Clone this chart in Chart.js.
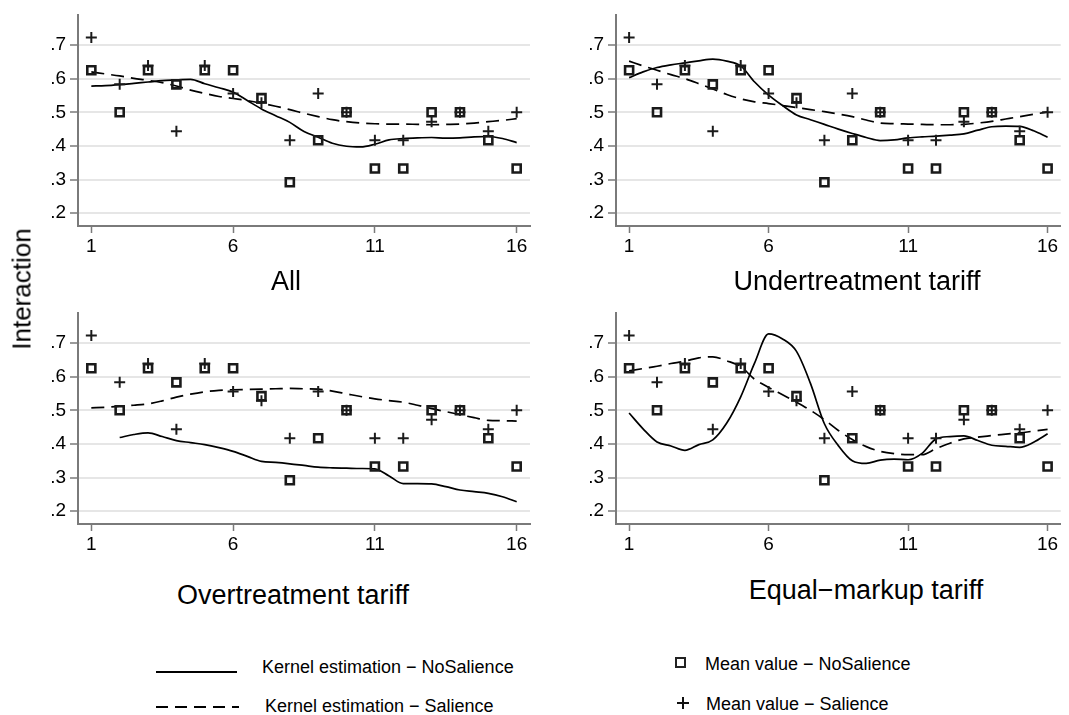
<!DOCTYPE html>
<html>
<head>
<meta charset="utf-8">
<script src="https://cdn.jsdelivr.net/npm/chart.js@4/dist/chart.umd.min.js"></script>
<style>
  body { margin: 0; background: #fff; font-family: "Liberation Sans", Arial, sans-serif; color: #000; }
  #fig { position: relative; width: 1069px; height: 715px; overflow: hidden; }
  .panel { position: absolute; width: 540px; height: 270px; }
  .panel.right { width: 529px; }
  .ptitle { position: absolute; font-size: 27px; line-height: 27px; white-space: nowrap; transform: translate(-50%, -50%); }
  #ylab { position: absolute; left: 22px; top: 289px; font-size: 26px; white-space: nowrap; transform: translate(-50%, -50%) rotate(-90deg); }
  .lg-text { position: absolute; font-size: 18px; line-height: 18px; white-space: nowrap; transform: translateY(-50%); }
  .lg-line { position: absolute; height: 2px; background: #000; }
  .lg-dash { position: absolute; height: 2px; background: repeating-linear-gradient(to right, #000 0 12px, transparent 12px 19px); }
  .lg-square { position: absolute; width: 7px; height: 7px; border: 2.5px solid #222; }
  .lg-plus { position: absolute; width: 12px; height: 12px; }
  .lg-plus::before, .lg-plus::after { content: ""; position: absolute; background: #111; }
  .lg-plus::before { left: 5px; top: 0; width: 2px; height: 12px; }
  .lg-plus::after { left: 0; top: 5px; width: 12px; height: 2px; }
</style>
</head>
<body>
<div id="fig">
  <div class="panel" style="left:0;top:0"><canvas id="c1"></canvas></div>
  <div class="panel right" style="left:540px;top:0"><canvas id="c2"></canvas></div>
  <div class="panel" style="left:0;top:298px"><canvas id="c3"></canvas></div>
  <div class="panel right" style="left:540px;top:298px"><canvas id="c4"></canvas></div>

  <div class="ptitle" style="left:286px;top:281px">All</div>
  <div class="ptitle" style="left:857px;top:281px">Undertreatment tariff</div>
  <div class="ptitle" style="left:293px;top:595px">Overtreatment tariff</div>
  <div class="ptitle" style="left:866px;top:590px">Equal−markup tariff</div>
  <div id="ylab">Interaction</div>

  <div class="lg-line" style="left:156px;top:671px;width:81px"></div>
  <div class="lg-text" style="left:262px;top:667px">Kernel estimation − NoSalience</div>
  <div class="lg-dash" style="left:156px;top:706px;width:83px"></div>
  <div class="lg-text" style="left:265px;top:706px">Kernel estimation − Salience</div>
  <div class="lg-square" style="left:675px;top:657px"></div>
  <div class="lg-text" style="left:705px;top:664px">Mean value − NoSalience</div>
  <div class="lg-plus" style="left:677px;top:697px"></div>
  <div class="lg-text" style="left:706px;top:704px">Mean value − Salience</div>
</div>

<script>
// axis ticks
const tickX = [1, 6, 11, 16];
const tickY = [0.2, 0.3, 0.4, 0.5, 0.6, 0.7];

// mean interaction per round
const rounds = [1, 2, 3, 4, 5, 6, 7, 8, 9, 10, 11, 12, 13, 14, 15, 16];
const meanNoSalience = [0.625, 0.5, 0.625, 0.583, 0.625, 0.625, 0.542, 0.292, 0.417, 0.5, 0.333, 0.333, 0.5, 0.5, 0.417, 0.333];
const meanSalience = [0.722, 0.583, 0.639, 0.444, 0.639, 0.556, 0.528, 0.417, 0.556, 0.5, 0.417, 0.417, 0.472, 0.5, 0.444, 0.5];

// kernel estimates, evaluated every half round
const kernelX = [1, 1.5, 2, 2.5, 3, 3.5, 4, 4.5, 5, 5.5, 6, 6.5, 7, 7.5, 8, 8.5, 9, 9.5, 10, 10.5, 11, 11.5, 12, 12.5, 13, 13.5, 14, 14.5, 15, 15.5, 16];

const allNoSalience = [0.578, 0.579, 0.582, 0.586, 0.590, 0.594, 0.596, 0.598, 0.585, 0.573, 0.560, 0.535, 0.510, 0.490, 0.470, 0.443, 0.426, 0.408, 0.399, 0.397, 0.405, 0.418, 0.422, 0.424, 0.425, 0.423, 0.424, 0.427, 0.428, 0.422, 0.410];
const allSalience = [0.620, 0.614, 0.608, 0.601, 0.595, 0.588, 0.578, 0.566, 0.556, 0.547, 0.541, 0.535, 0.527, 0.518, 0.508, 0.497, 0.487, 0.478, 0.472, 0.468, 0.466, 0.465, 0.465, 0.464, 0.463, 0.464, 0.465, 0.468, 0.472, 0.476, 0.481];

const underNoSalience = [0.603, 0.620, 0.633, 0.641, 0.647, 0.653, 0.658, 0.652, 0.638, 0.590, 0.551, 0.520, 0.492, 0.478, 0.464, 0.450, 0.437, 0.425, 0.416, 0.418, 0.424, 0.427, 0.429, 0.432, 0.436, 0.447, 0.457, 0.459, 0.458, 0.445, 0.426];
const underSalience = [0.652, 0.638, 0.625, 0.612, 0.600, 0.585, 0.569, 0.553, 0.540, 0.531, 0.526, 0.520, 0.514, 0.508, 0.502, 0.495, 0.487, 0.477, 0.468, 0.466, 0.465, 0.464, 0.463, 0.463, 0.464, 0.468, 0.473, 0.480, 0.487, 0.494, 0.501];

const overNoSalience = [null, null, 0.419, 0.428, 0.433, 0.422, 0.410, 0.404, 0.398, 0.389, 0.378, 0.363, 0.348, 0.345, 0.341, 0.336, 0.331, 0.329, 0.328, 0.327, 0.326, 0.305, 0.282, 0.282, 0.281, 0.273, 0.263, 0.258, 0.253, 0.243, 0.228];
const overSalience = [0.507, 0.509, 0.512, 0.515, 0.519, 0.528, 0.539, 0.548, 0.555, 0.559, 0.561, 0.562, 0.563, 0.564, 0.565, 0.564, 0.563, 0.557, 0.549, 0.541, 0.534, 0.529, 0.524, 0.515, 0.505, 0.496, 0.487, 0.478, 0.470, 0.469, 0.468];

const equalNoSalience = [0.492, 0.445, 0.406, 0.394, 0.381, 0.398, 0.412, 0.462, 0.540, 0.641, 0.727, 0.712, 0.675, 0.580, 0.460, 0.395, 0.350, 0.342, 0.352, 0.355, 0.353, 0.372, 0.415, 0.422, 0.424, 0.410, 0.396, 0.393, 0.390, 0.405, 0.430];
const equalSalience = [0.617, 0.624, 0.631, 0.639, 0.646, 0.656, 0.659, 0.647, 0.630, 0.592, 0.568, 0.546, 0.524, 0.500, 0.472, 0.440, 0.413, 0.392, 0.378, 0.371, 0.368, 0.368, 0.386, 0.402, 0.415, 0.420, 0.425, 0.429, 0.433, 0.438, 0.443];

const AXIS = "#7a7a7a";
const GRID = "#e6e6e6";
const tickFont = { family: "'Liberation Sans', Arial, sans-serif", size: 19 };

function pts(xs, ys) {
    return xs.map((x, i) => ({ x: x, y: ys[i] }));
}

function makePanel(id, noSal, sal, yWidth, padRight) {
    const ctx = document.getElementById(id).getContext("2d");
    return new Chart(ctx, {
        type: "scatter",
        data: {
            datasets: [
                {
                    label: "Mean value - NoSalience",
                    data: pts(rounds, meanNoSalience),
                    pointStyle: "rect",
                    pointRadius: 5.7,
                    borderWidth: 2.6,
                    borderColor: "#1a1a1a",
                    backgroundColor: "transparent",
                    order: 1,
                },
                {
                    label: "Mean value - Salience",
                    data: pts(rounds, meanSalience),
                    pointStyle: "cross",
                    pointRadius: 5.5,
                    borderWidth: 2,
                    borderColor: "#1a1a1a",
                    order: 2,
                },
                {
                    type: "line",
                    label: "Kernel estimation - NoSalience",
                    data: pts(kernelX, noSal),
                    borderColor: "#000",
                    borderWidth: 1.7,
                    pointRadius: 0,
                    cubicInterpolationMode: "monotone",
                    fill: false,
                    order: 3,
                },
                {
                    type: "line",
                    label: "Kernel estimation - Salience",
                    data: pts(kernelX, sal),
                    borderColor: "#000",
                    borderWidth: 1.7,
                    borderDash: [13, 7],
                    pointRadius: 0,
                    cubicInterpolationMode: "monotone",
                    fill: false,
                    order: 4,
                },
            ],
        },
        options: {
            responsive: true,
            maintainAspectRatio: false,
            animation: false,
            layout: { padding: { top: 12, right: padRight, left: 0, bottom: 0 } },
            plugins: { legend: { display: false }, tooltip: { enabled: false } },
            scales: {
                x: {
                    type: "linear",
                    min: 0.53,
                    max: 16.47,
                    afterBuildTicks: (axis) => { axis.ticks = tickX.map((v) => ({ value: v })); },
                    afterFit: (scale) => { scale.height = 44; },
                    border: { color: AXIS, width: 2 },
                    grid: { drawOnChartArea: false, drawTicks: true, tickLength: 7, tickColor: AXIS, tickWidth: 1.5 },
                    ticks: { color: "#000", font: tickFont, padding: 2, maxRotation: 0 },
                },
                y: {
                    type: "linear",
                    min: 0.162,
                    max: 0.788,
                    afterBuildTicks: (axis) => { axis.ticks = tickY.map((v) => ({ value: v })); },
                    afterFit: (scale) => { scale.width = yWidth; },
                    border: { color: AXIS, width: 2 },
                    grid: { color: GRID, lineWidth: 2, tickLength: 8, tickColor: AXIS, tickWidth: 1.5 },
                    ticks: {
                        color: "#000",
                        font: tickFont,
                        padding: 4,
                        callback: (v) => v.toFixed(1).replace(/^0/, ""),
                    },
                },
            },
        },
    });
}

makePanel("c1", allNoSalience, allSalience, 78, 10);
makePanel("c2", underNoSalience, underSalience, 76, 1);
makePanel("c3", overNoSalience, overSalience, 78, 10);
makePanel("c4", equalNoSalience, equalSalience, 76, 1);
</script>
</body>
</html>
